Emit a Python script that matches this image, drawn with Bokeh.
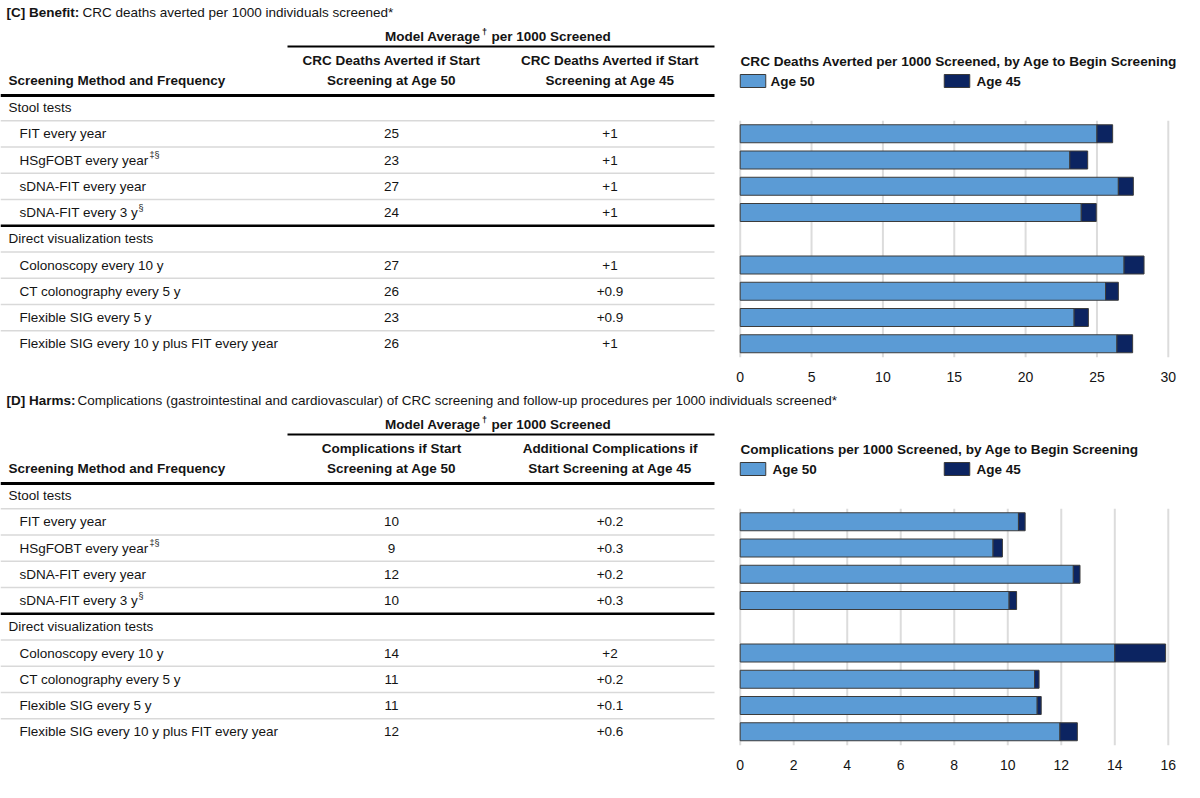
from bokeh.plotting import figure
from bokeh.models import Range1d, LinearAxis, FixedTicker
from bokeh.layouts import column
from bokeh.core.properties import value
from bokeh.embed import file_html
from bokeh.resources import INLINE

FONT = "Liberation Sans"

# ---------------- data ----------------
groups = ["Stool tests", "Direct visualization tests"]
methods = ["FIT every year", "HSgFOBT every year", "sDNA-FIT every year", "sDNA-FIT every 3 y",
           "Colonoscopy every 10 y", "CT colonography every 5 y", "Flexible SIG every 5 y",
           "Flexible SIG every 10 y plus FIT every year"]
method_marks = ["", "\u2021\u00a7", "", "\u00a7", "", "", "", ""]
method_group = [0, 0, 0, 0, 1, 1, 1, 1]
series_names = ["Age 50", "Age 45"]
series_colors = ["#5B9BD5", "#0C2461"]

# Panel C – benefit
c_title_bold = "[C] Benefit:"
c_title_rest = "CRC deaths averted per 1000 individuals screened*"
c_col2_head = ["CRC Deaths Averted if Start", "Screening at Age 50"]
c_col3_head = ["CRC Deaths Averted if Start", "Screening at Age 45"]
c_chart_title = "CRC Deaths Averted per 1000 Screened, by Age to Begin Screening"
c_age50_label = ["25", "23", "27", "24", "27", "26", "23", "26"]
c_age45_label = ["+1", "+1", "+1", "+1", "+1", "+0.9", "+0.9", "+1"]
c_age50 = [25.0, 23.1, 26.5, 23.9, 26.9, 25.6, 23.4, 26.4]
c_age45_extra = [1.1, 1.25, 1.05, 1.05, 1.4, 0.9, 1.0, 1.1]
c_ticks = [0, 5, 10, 15, 20, 25, 30]

# Panel D – harms
d_title_bold = "[D] Harms:"
d_title_rest = ("Complications (gastrointestinal and cardiovascular) of CRC screening and "
                "follow-up procedures per 1000 individuals screened*")
d_col2_head = ["Complications if Start", "Screening at Age 50"]
d_col3_head = ["Additional Complications if", "Start Screening at Age 45"]
d_chart_title = "Complications per 1000 Screened, by Age to Begin Screening"
d_age50_label = ["10", "9", "12", "10", "14", "11", "11", "12"]
d_age45_label = ["+0.2", "+0.3", "+0.2", "+0.3", "+2", "+0.2", "+0.1", "+0.6"]
d_age50 = [10.4, 9.45, 12.45, 10.05, 14.0, 11.0, 11.1, 11.95]
d_age45_extra = [0.25, 0.35, 0.25, 0.28, 1.9, 0.17, 0.15, 0.65]
d_ticks = [0, 2, 4, 6, 8, 10, 12, 14, 16]

model_avg_left = "Model Average"
model_avg_mark = "\u2020"
model_avg_right = "per 1000 Screened"
method_head = "Screening Method and Frequency"

# ---------------- layout constants (pixels) ----------------
PAGE_L, PAGE_R = 0, 1184
PITCH = 26.25
BAR_X0 = 739.7
BAR_X1 = 1167.8
TABLE_R = 714
COL2_X, COL3_X = 391, 609.5
FS = "13.5px"
TXT_COLOR = "#141414"


def txt(p, x, y, t, size=FS, bold=False, align="left", color=TXT_COLOR):
    p.text(x=x, y=y, text=t, text_font=value(FONT), text_font_size=size,
           text_font_style="bold" if bold else "normal", text_align=align,
           text_baseline="middle", text_color=color)


def panel(page_top, height, frame_bottom, off, title_bold, title_rest, title_rest_x,
          col2_head, col3_head, chart_title, lab50, lab45, v50, v45, ticks, age50_text_x):
    p = figure(width=PAGE_R - PAGE_L, height=height, output_backend="svg", toolbar_location=None,
               x_axis_type=None, y_axis_type=None,
               x_range=Range1d(PAGE_L, PAGE_R), y_range=Range1d(frame_bottom, page_top),
               min_border_left=0, min_border_right=0, min_border_top=0,
               min_border_bottom=page_top + height - frame_bottom)
    p.outline_line_color = None
    p.background_fill_color = "white"
    p.border_fill_color = "white"
    tmax = ticks[-1]
    px = (BAR_X1 - BAR_X0) / tmax
    p.extra_x_ranges = {"bars": Range1d((PAGE_L - BAR_X0) / px, (PAGE_R - BAR_X0) / px)}

    # titles
    txt(p, [6], [12 + off], [title_bold], bold=True)
    txt(p, [title_rest_x], [12 + off], [title_rest])
    txt(p, [480], [36 + off], [model_avg_left], bold=True, align="right")
    txt(p, [481.5], [31 + off], [model_avg_mark], size="9px", bold=True)
    txt(p, [491], [36 + off], [model_avg_right], bold=True)
    p.segment(x0=[287], x1=[TABLE_R], y0=[46 + off], y1=[46 + off], line_color="#000000", line_width=2)
    txt(p, [COL2_X, COL2_X], [60 + off, 80 + off], col2_head, bold=True, align="center")
    txt(p, [COL3_X, COL3_X], [60 + off, 80 + off], col3_head, bold=True, align="center")
    txt(p, [8], [80 + off], [method_head], bold=True)
    p.segment(x0=[PAGE_L], x1=[TABLE_R], y0=[95 + off], y1=[95 + off], line_color="#000000", line_width=3)

    # rows
    first = 107 + off
    row_y = []
    k = 0
    for g in range(len(groups)):
        gy = first + PITCH * k
        txt(p, [8], [gy], [groups[g]])
        k += 1
        for i, m in enumerate(methods):
            if method_group[i] == g:
                row_y.append(first + PITCH * k)
                k += 1
    sep_y = [first + PITCH * (j + 0.5) for j in range(k - 1)]
    thick_y = first + PITCH * 4.5
    light = [y for y in sep_y if abs(y - thick_y) > 1]
    p.segment(x0=[PAGE_L] * len(light), x1=[TABLE_R] * len(light), y0=light, y1=light,
              line_color="#D9D9D9", line_width=1.5)
    p.segment(x0=[PAGE_L], x1=[TABLE_R], y0=[thick_y], y1=[thick_y], line_color="#000000", line_width=2.5)

    txt(p, [19] * len(methods), row_y, methods)
    sup_x = {1: 149, 3: 138}
    for i, mk in enumerate(method_marks):
        if mk:
            txt(p, [sup_x[i]], [row_y[i] - 5], [mk], size="9px")
    txt(p, [COL2_X] * len(methods), row_y, lab50, align="center")
    txt(p, [COL3_X] * len(methods), row_y, lab45, align="center")

    # chart title and legend
    txt(p, [740], [60.5 + off], [chart_title], size="13.6px", bold=True)
    p.rect(x=[752.5, 956.5], y=[80.5 + off] * 2, width=25.5, height=13,
           fill_color=series_colors, line_color="#3A3A3A", line_width=1)
    txt(p, [age50_text_x, 976], [81 + off] * 2, series_names, bold=True)

    # grid lines
    g_top = row_y[0] - 13
    g_bot = row_y[-1] + 13.5
    p.segment(x0=ticks, x1=ticks, y0=[g_top] * len(ticks), y1=[g_bot] * len(ticks),
              x_range_name="bars", line_color="#DCDCDC", line_width=2)

    # stacked bars
    right45 = [a + b for a, b in zip(v50, v45)]
    p.hbar(y=row_y, left=0, right=v50, height=18, x_range_name="bars",
           fill_color=series_colors[0], line_color="#3C3C3C", line_width=1)
    p.hbar(y=row_y, left=v50, right=right45, height=18, x_range_name="bars",
           fill_color=series_colors[1], line_color="#3C3C3C", line_width=1)

    ax = LinearAxis(x_range_name="bars", ticker=FixedTicker(ticks=ticks), bounds=(0, tmax))
    ax.axis_line_color = None
    ax.major_tick_line_color = None
    ax.minor_tick_line_color = None
    ax.major_tick_out = 0
    ax.major_tick_in = 0
    ax.major_label_standoff = 3
    ax.major_label_text_font = FONT
    ax.major_label_text_font_size = "14px"
    ax.major_label_text_color = TXT_COLOR
    p.add_layout(ax, "below")
    return p


top = panel(0, 390, 368, 0, c_title_bold, c_title_rest, 82, c_col2_head, c_col3_head,
            c_chart_title, c_age50_label, c_age45_label, c_age50, c_age45_extra, c_ticks, 770)
bottom = panel(390, 392, 756, 388, d_title_bold, d_title_rest, 77, d_col2_head, d_col3_head,
               d_chart_title, d_age50_label, d_age45_label, d_age50, d_age45_extra, d_ticks, 772)

layout = column(top, bottom, spacing=0)
open("out.html", "w").write(file_html(layout, INLINE))
